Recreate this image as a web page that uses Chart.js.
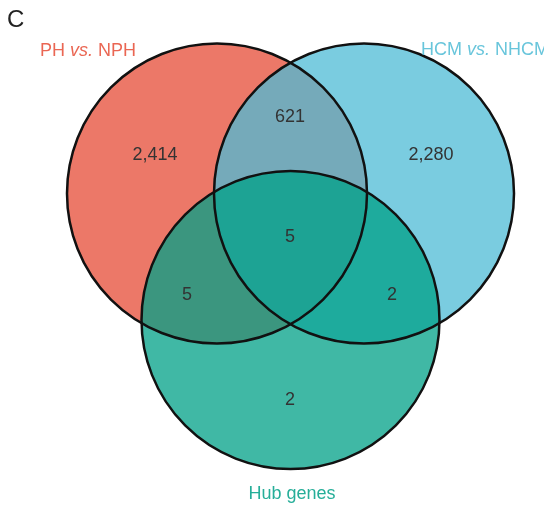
<!DOCTYPE html>
<html>
<head>
<meta charset="utf-8">
<script src="https://cdn.jsdelivr.net/npm/chart.js@4.4.1/dist/chart.umd.min.js"></script>
<style>
  html, body { margin: 0; padding: 0; background: #ffffff; }
  #wrap { width: 544px; height: 510px; position: relative; }
</style>
</head>
<body>
<div id="wrap"><canvas id="venn"></canvas></div>
<script>
// Gene sets and region counts of the three-way Venn diagram
const panelLetter = 'C';
const setLabels = [
  [['PH ', false], ['vs.', true], [' NPH', false]],
  [['HCM ', false], ['vs.', true], [' NHCM', false]],
  [['Hub genes', false]]
];
const setColors = ['#E64B35', '#4DBBD5', '#00A087'];
const regionKeys = ['PH', 'HCM', 'Hub', 'PH+HCM', 'PH+Hub', 'HCM+Hub', 'PH+HCM+Hub'];
const regionCounts = [2414, 2280, 2, 621, 5, 2, 5];

// Drawing geometry in canvas units (1 unit = 1 px on both axes)
const circles = [
  { x: 217, y: 193.5, r: 150 },
  { x: 364, y: 193.5, r: 150 },
  { x: 290.5, y: 320, r: 149 }
];
const regionAnchors = [[155, 155], [431, 155], [290, 400], [290, 117], [187, 295], [392, 295], [290, 237]];
const setLabelAnchors = [
  { x: 40, y: 56, align: 'left' },
  { x: 421, y: 55, align: 'left' },
  { x: 292, y: 499, align: 'center' }
];
const FONT = '"Liberation Sans", Arial, Helvetica, sans-serif';

function radiusPx(chart, r) {
  const s = chart.scales.x;
  return Math.abs(s.getPixelForValue(r) - s.getPixelForValue(0));
}

function hexA(hex, a) {
  const n = parseInt(hex.slice(1), 16);
  return `rgba(${(n >> 16) & 255},${(n >> 8) & 255},${n & 255},${a})`;
}

// Filled discs first, outlines on top of every fill
const datasets = [];
circles.forEach((c, i) => {
  datasets.push({
    label: regionKeys[i] + ' fill',
    data: [{ x: c.x, y: c.y }],
    backgroundColor: hexA(setColors[i], 0.75),
    borderColor: 'rgba(0,0,0,0)',
    borderWidth: 0,
    pointRadius: ctx => radiusPx(ctx.chart, c.r),
    order: 10 - i,
    clip: false
  });
});
circles.forEach((c, i) => {
  datasets.push({
    label: regionKeys[i] + ' outline',
    data: [{ x: c.x, y: c.y }],
    backgroundColor: 'rgba(0,0,0,0)',
    borderColor: '#111111',
    borderWidth: 2.5,
    pointRadius: ctx => radiusPx(ctx.chart, c.r),
    order: 3 - i,
    clip: false
  });
});

const vennText = {
  id: 'vennText',
  afterDatasetsDraw(chart) {
    const { ctx, scales: { x, y } } = chart;
    ctx.save();
    // panel letter
    ctx.fillStyle = '#222222';
    ctx.font = '24px ' + FONT;
    ctx.textAlign = 'left';
    ctx.textBaseline = 'alphabetic';
    ctx.fillText(panelLetter, x.getPixelForValue(7), y.getPixelForValue(27));

    // region counts
    ctx.fillStyle = '#333333';
    ctx.font = '18px ' + FONT;
    ctx.textAlign = 'center';
    ctx.textBaseline = 'middle';
    regionCounts.forEach((v, i) => {
      const [ax, ay] = regionAnchors[i];
      ctx.fillText(v.toLocaleString('en-US'), x.getPixelForValue(ax), y.getPixelForValue(ay));
    });

    // set names, with italic "vs."
    ctx.textAlign = 'left';
    ctx.textBaseline = 'alphabetic';
    setLabels.forEach((parts, i) => {
      const a = setLabelAnchors[i];
      const fonts = parts.map(p => (p[1] ? 'italic ' : '') + '18px ' + FONT);
      let total = 0;
      const widths = parts.map((p, k) => { ctx.font = fonts[k]; const w = ctx.measureText(p[0]).width; total += w; return w; });
      let px = x.getPixelForValue(a.x);
      if (a.align === 'center') px -= total / 2;
      const py = y.getPixelForValue(a.y);
      ctx.fillStyle = hexA(setColors[i], 0.85);
      parts.forEach((p, k) => { ctx.font = fonts[k]; ctx.fillText(p[0], px, py); px += widths[k]; });
    });
    ctx.restore();
  }
};

new Chart(document.getElementById('venn'), {
  type: 'scatter',
  data: { datasets },
  options: {
    responsive: true,
    maintainAspectRatio: false,
    animation: false,
    events: [],
    layout: { padding: 0 },
    plugins: { legend: { display: false }, tooltip: { enabled: false }, title: { display: false } },
    scales: {
      x: { type: 'linear', min: 0, max: 544, display: false },
      y: { type: 'linear', min: 0, max: 510, reverse: true, display: false }
    }
  },
  plugins: [vennText]
});
</script>
</body>
</html>
